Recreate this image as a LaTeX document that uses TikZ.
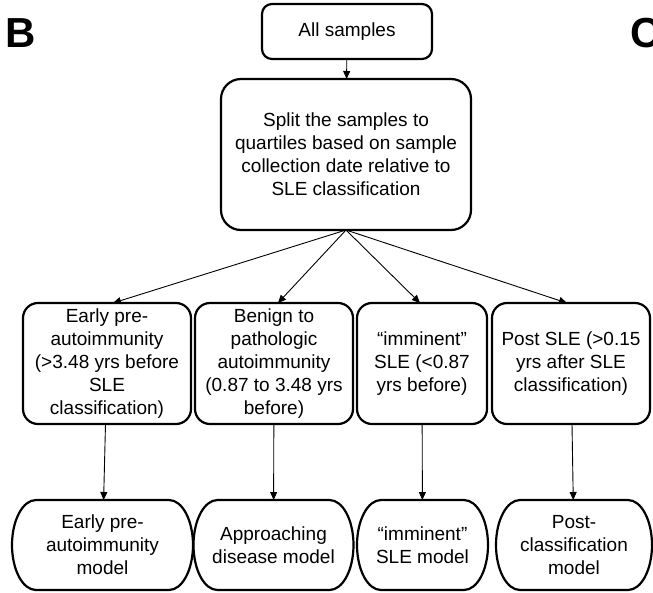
\documentclass[tikz,border=0pt]{standalone}
\usepackage{fontspec}
\setmainfont{Liberation Sans}
\usetikzlibrary{arrows.meta}
\tikzset{
  box/.style={draw, line width=2.2pt, rounded corners=15pt, outer sep=0pt, inner sep=0pt,
    align=center, font=\fontsize{19}{23}\selectfont},
  pill/.style={outer sep=0pt, inner sep=0pt, align=center, font=\fontsize{19}{23}\selectfont},
  pillline/.style={line width=2.2pt},
  conn/.style={line width=0.9pt, -{Triangle[length=8pt,width=7pt]}},
  panel/.style={font=\fontsize{42}{42}\selectfont\bfseries, inner sep=0pt, anchor=base west}
}
\newcommand\pillborder[1]{%
  \draw[pillline] ([xshift=24pt]#1.north west) -- ([xshift=-24pt]#1.north east)
    arc[start angle=90, end angle=-90, x radius=24pt, y radius=45pt]
    -- ([xshift=24pt]#1.south west)
    arc[start angle=270, end angle=90, x radius=24pt, y radius=45pt] -- cycle;}
\begin{document}
\begin{tikzpicture}[x=1pt,y=-1pt]
\useasboundingbox (0,0) rectangle (653,592);
\node[panel] (B) at (5,47) {B};
\node[panel] (C) at (630,47) {C};

\node[box, rounded corners=10pt, minimum width=170pt, minimum height=55pt] (all) at (347,31.5) {All samples};
\node[box, rounded corners=20pt, minimum width=250pt, minimum height=151pt] (split) at (346,154.5)
  {Split the samples to\\quartiles based on sample\\collection date relative to\\SLE classification};

\node[box, minimum width=168pt, minimum height=121pt] (m1) at (107,363.5)
  {Early pre-\\autoimmunity\\(>3.48 yrs before\\SLE\\classification)};
\node[box, minimum width=158pt, minimum height=121pt] (m2) at (274,363.5)
  {Benign to\\pathologic\\autoimmunity\\(0.87 to 3.48 yrs\\before)};
\node[box, minimum width=130pt, minimum height=121pt] (m3) at (422,363.5)
  {“imminent”\\SLE (<0.87\\yrs before)};
\node[box, minimum width=158pt, minimum height=121pt] (m4) at (571,363.5)
  {Post SLE (>0.15\\yrs after SLE\\classification)};

\node[pill, minimum width=181pt, minimum height=90pt] (b1) at (102.5,545)
  {Early pre-\\autoimmunity\\model};
\node[pill, minimum width=160pt, minimum height=90pt] (b2) at (273.5,545)
  {Approaching\\disease model};
\node[pill, minimum width=131pt, minimum height=90pt] (b3) at (422.5,545)
  {“imminent”\\SLE model};
\node[pill, minimum width=156pt, minimum height=90pt] (b4) at (574,545)
  {Post-\\classification\\model};
\pillborder{b1}
\pillborder{b2}
\pillborder{b3}
\pillborder{b4}

\draw[conn] (all) -- (split);
\draw[conn] (split.south) -- ([xshift=6pt]m1.north);
\draw[conn] (split.south) -- ([xshift=4pt]m2.north);
\draw[conn] (split.south) -- ([xshift=-2pt]m3.north);
\draw[conn] (split.south) -- ([xshift=-4pt]m4.north);
\draw[conn] (m1) -- (b1);
\draw[conn] (m2) -- (b2);
\draw[conn] (m3) -- (b3);
\draw[conn] (m4) -- (b4);
\end{tikzpicture}
\end{document}
